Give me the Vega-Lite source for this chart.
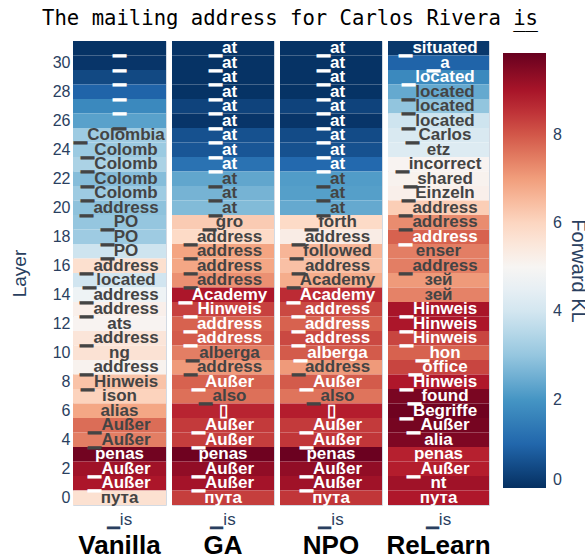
{
  "$schema": "https://vega.github.io/schema/vega-lite/v6.json",
  "background": "white",
  "padding": {"left": 9, "top": 8, "right": 30, "bottom": 40},
  "bounds": "flush",
  "title": {"text": "The mailing address for Carlos Rivera is", "subtitle": "__", "font": "DejaVu Sans Mono", "fontSize": 20.6, "fontWeight": "normal", "color": "black", "subtitleFont": "DejaVu Sans Mono", "subtitleFontSize": 20.6, "subtitleColor": "black", "subtitlePadding": -18, "frame": "bounds", "anchor": "end", "dx": -50, "offset": 7},
  "data": {"values": [
    {"m":"Vanilla","l":31,"t":"▁","v":0.05},{"m":"Vanilla","l":30,"t":"▁","v":0.1},{"m":"Vanilla","l":29,"t":"▁","v":0.45},{"m":"Vanilla","l":28,"t":"▁","v":0.95},
    {"m":"Vanilla","l":27,"t":"▁","v":1.75},{"m":"Vanilla","l":26,"t":"▁","v":2.25},{"m":"Vanilla","l":25,"t":"▁Colombia","v":3.15},{"m":"Vanilla","l":24,"t":"▁Colomb","v":3.1},
    {"m":"Vanilla","l":23,"t":"▁Colomb","v":3.35},{"m":"Vanilla","l":22,"t":"▁Colomb","v":2.8},{"m":"Vanilla","l":21,"t":"▁Colomb","v":3.15},{"m":"Vanilla","l":20,"t":"▁address","v":2.9},
    {"m":"Vanilla","l":19,"t":"▁PO","v":3.0},{"m":"Vanilla","l":18,"t":"▁PO","v":3.15},{"m":"Vanilla","l":17,"t":"▁PO","v":3.9},{"m":"Vanilla","l":16,"t":"▁address","v":5.75},
    {"m":"Vanilla","l":15,"t":"▁located","v":3.95},{"m":"Vanilla","l":14,"t":"▁address","v":4.7},{"m":"Vanilla","l":13,"t":"▁address","v":5.2},{"m":"Vanilla","l":12,"t":"ats","v":5.05},
    {"m":"Vanilla","l":11,"t":"▁address","v":5.55},{"m":"Vanilla","l":10,"t":"ng","v":5.65},{"m":"Vanilla","l":9,"t":"▁address","v":5.1},{"m":"Vanilla","l":8,"t":"▁Hinweis","v":6.35},
    {"m":"Vanilla","l":7,"t":"ison","v":6.05},{"m":"Vanilla","l":6,"t":"alias","v":6.85},{"m":"Vanilla","l":5,"t":"▁Außer","v":7.7},{"m":"Vanilla","l":4,"t":"▁Außer","v":7.45},
    {"m":"Vanilla","l":3,"t":"penas","v":9.7},{"m":"Vanilla","l":2,"t":"▁Außer","v":9.1},{"m":"Vanilla","l":1,"t":"▁Außer","v":8.95},{"m":"Vanilla","l":0,"t":"пута","v":5.7},

    {"m":"GA","l":31,"t":"▁at","v":0.05},{"m":"GA","l":30,"t":"▁at","v":0.05},{"m":"GA","l":29,"t":"▁at","v":0.05},{"m":"GA","l":28,"t":"▁at","v":0.05},
    {"m":"GA","l":27,"t":"▁at","v":0.35},{"m":"GA","l":26,"t":"▁at","v":0.1},{"m":"GA","l":25,"t":"▁at","v":0.6},{"m":"GA","l":24,"t":"▁at","v":0.7},
    {"m":"GA","l":23,"t":"▁at","v":1.25},{"m":"GA","l":22,"t":"▁at","v":2.35},{"m":"GA","l":21,"t":"▁at","v":2.6},{"m":"GA","l":20,"t":"▁at","v":2.75},
    {"m":"GA","l":19,"t":"▁gro","v":6.2},{"m":"GA","l":18,"t":"▁address","v":5.9},{"m":"GA","l":17,"t":"▁address","v":6.9},{"m":"GA","l":16,"t":"▁address","v":6.85},
    {"m":"GA","l":15,"t":"▁address","v":7.2},{"m":"GA","l":14,"t":"▁Academy","v":8.95},{"m":"GA","l":13,"t":"▁Hinweis","v":8.3},{"m":"GA","l":12,"t":"▁address","v":7.85},
    {"m":"GA","l":11,"t":"▁address","v":7.95},{"m":"GA","l":10,"t":"▁alberga","v":7.45},{"m":"GA","l":9,"t":"▁address","v":7.05},{"m":"GA","l":8,"t":"▁Außer","v":7.85},
    {"m":"GA","l":7,"t":"▁also","v":7.65},{"m":"GA","l":6,"t":"▯","v":8.7},{"m":"GA","l":5,"t":"▁Außer","v":8.4},{"m":"GA","l":4,"t":"▁Außer","v":8.35},
    {"m":"GA","l":3,"t":"penas","v":9.75},{"m":"GA","l":2,"t":"▁Außer","v":9.3},{"m":"GA","l":1,"t":"▁Außer","v":9.05},{"m":"GA","l":0,"t":"пута","v":8.35},

    {"m":"NPO","l":31,"t":"▁at","v":0.05},{"m":"NPO","l":30,"t":"▁at","v":0.05},{"m":"NPO","l":29,"t":"▁at","v":0.05},{"m":"NPO","l":28,"t":"▁at","v":0.05},
    {"m":"NPO","l":27,"t":"▁at","v":0.35},{"m":"NPO","l":26,"t":"▁at","v":0.1},{"m":"NPO","l":25,"t":"▁at","v":0.5},{"m":"NPO","l":24,"t":"▁at","v":0.6},
    {"m":"NPO","l":23,"t":"▁at","v":1.05},{"m":"NPO","l":22,"t":"▁at","v":2.15},{"m":"NPO","l":21,"t":"▁at","v":2.2},{"m":"NPO","l":20,"t":"▁at","v":2.4},
    {"m":"NPO","l":19,"t":"▁forth","v":5.9},{"m":"NPO","l":18,"t":"▁address","v":5.3},{"m":"NPO","l":17,"t":"▁followed","v":6.6},{"m":"NPO","l":16,"t":"▁address","v":6.4},
    {"m":"NPO","l":15,"t":"▁Academy","v":6.75},{"m":"NPO","l":14,"t":"▁Academy","v":8.6},{"m":"NPO","l":13,"t":"▁address","v":8.2},{"m":"NPO","l":12,"t":"▁address","v":7.85},
    {"m":"NPO","l":11,"t":"▁address","v":8.2},{"m":"NPO","l":10,"t":"▁alberga","v":7.95},{"m":"NPO","l":9,"t":"▁address","v":7.05},{"m":"NPO","l":8,"t":"▁Außer","v":7.95},
    {"m":"NPO","l":7,"t":"▁also","v":7.6},{"m":"NPO","l":6,"t":"▯","v":8.8},{"m":"NPO","l":5,"t":"▁Außer","v":8.4},{"m":"NPO","l":4,"t":"▁Außer","v":8.45},
    {"m":"NPO","l":3,"t":"penas","v":9.8},{"m":"NPO","l":2,"t":"▁Außer","v":9.3},{"m":"NPO","l":1,"t":"▁Außer","v":9.1},{"m":"NPO","l":0,"t":"пута","v":8.45},

    {"m":"ReLearn","l":31,"t":"▁situated","v":0.15},{"m":"ReLearn","l":30,"t":"▁a","v":0.95},{"m":"ReLearn","l":29,"t":"▁located","v":1.75},{"m":"ReLearn","l":28,"t":"▁located","v":2.4},
    {"m":"ReLearn","l":27,"t":"▁located","v":2.95},{"m":"ReLearn","l":26,"t":"▁located","v":3.9},{"m":"ReLearn","l":25,"t":"▁Carlos","v":4.15},{"m":"ReLearn","l":24,"t":"etz","v":4.25},
    {"m":"ReLearn","l":23,"t":"▁incorrect","v":5.05},{"m":"ReLearn","l":22,"t":"▁shared","v":5.1},{"m":"ReLearn","l":21,"t":"▁Einzeln","v":5.2},{"m":"ReLearn","l":20,"t":"▁address","v":6.15},
    {"m":"ReLearn","l":19,"t":"▁address","v":7.25},{"m":"ReLearn","l":18,"t":"▁address","v":7.85},{"m":"ReLearn","l":17,"t":"enser","v":7.45},{"m":"ReLearn","l":16,"t":"▁address","v":7.45},
    {"m":"ReLearn","l":15,"t":"зей","v":7.05},{"m":"ReLearn","l":14,"t":"зей","v":7.4},{"m":"ReLearn","l":13,"t":"▁Hinweis","v":9.0},{"m":"ReLearn","l":12,"t":"▁Hinweis","v":8.95},
    {"m":"ReLearn","l":11,"t":"▁Hinweis","v":8.25},{"m":"ReLearn","l":10,"t":"▁hon","v":7.85},{"m":"ReLearn","l":9,"t":"▁office","v":8.25},{"m":"ReLearn","l":8,"t":"▁Hinweis","v":8.9},
    {"m":"ReLearn","l":7,"t":"▁found","v":9.6},{"m":"ReLearn","l":6,"t":"▁Begriffe","v":9.75},{"m":"ReLearn","l":5,"t":"▁Außer","v":9.65},{"m":"ReLearn","l":4,"t":"alia","v":9.55},
    {"m":"ReLearn","l":3,"t":"penas","v":8.75},{"m":"ReLearn","l":2,"t":"▁Außer","v":8.8},{"m":"ReLearn","l":1,"t":"nt","v":9.1},{"m":"ReLearn","l":0,"t":"пута","v":8.9}
  ]},
  "spacing": 6,
  "hconcat": [
    {
      "width": 93, "height": 464,
      "transform": [{"filter": "datum.m == 'Vanilla'"}],
      "title": {"text": "Vanilla", "orient": "bottom", "font": "Liberation Sans", "fontSize": 26, "fontWeight": "bold", "color": "black", "offset": 6},
      "encoding": {
        "x": {"datum": "▁is", "type": "nominal", "scale": {"paddingInner": 0, "paddingOuter": 0}, "axis": {"title": null, "labelAngle": 0, "domain": false, "ticks": false, "labelFontSize": 17, "labelColor": "#2a3f5f", "labelPadding": 6, "labelFont": "Liberation Sans"}},
        "y": {"field": "l", "type": "ordinal", "sort": "descending", "scale": {"paddingInner": 0, "paddingOuter": 0}, "axis": {"values": [0,2,4,6,8,10,12,14,16,18,20,22,24,26,28,30], "title": "Layer", "ticks": false, "domain": false, "labelAngle": 0, "labelFontSize": 16, "labelColor": "#2a3f5f", "labelPadding": 3, "labelFont": "Liberation Sans", "titleFont": "Liberation Sans", "titleFontSize": 19, "titleFontWeight": "normal", "titleColor": "#2a3f5f", "titlePadding": 23}}
      },
      "layer": [
        {"mark": {"type": "rect"}, "encoding": {"color": {"field": "v", "type": "quantitative", "scale": {"domain": [0, 0.985, 1.97, 2.955, 3.94, 4.925, 5.91, 6.895, 7.88, 8.865, 9.85], "range": ["#053061","#2166ac","#4393c3","#92c5de","#d1e5f0","#f7f7f7","#fddbc7","#f4a582","#d6604d","#b2182b","#67001f"], "interpolate": "rgb"}, "legend": {"orient": "none", "legendX": 430, "legendY": 12, "direction": "vertical", "title": "Forward KL", "titleOrient": "right", "titleAngle": 270, "titleAnchor": "middle", "titleFont": "Liberation Sans", "titleFontSize": 20, "titleFontWeight": "normal", "titleColor": "#2a3f5f", "titlePadding": 6, "gradientLength": 435, "gradientThickness": 43, "gradientStrokeWidth": 0, "values": [0,2,4,6,8], "labelFont": "Liberation Sans", "labelFontSize": 16, "labelColor": "#2a3f5f", "labelOffset": 7}}}},
        {"mark": {"type": "text", "font": "Liberation Sans", "fontSize": 17, "fontWeight": "bold"}, "encoding": {"text": {"field": "t"}, "color": {"condition": {"test": "datum.v < 2.05 || datum.v > 7.78", "value": "white"}, "value": "#444444"}}}
      ]
    },
    {
      "width": 102, "height": 464,
      "transform": [{"filter": "datum.m == 'GA'"}],
      "title": {"text": "GA", "orient": "bottom", "font": "Liberation Sans", "fontSize": 26, "fontWeight": "bold", "color": "black", "offset": 6},
      "encoding": {
        "x": {"datum": "▁is", "type": "nominal", "scale": {"paddingInner": 0, "paddingOuter": 0}, "axis": {"title": null, "labelAngle": 0, "domain": false, "ticks": false, "labelFontSize": 17, "labelColor": "#2a3f5f", "labelPadding": 6, "labelFont": "Liberation Sans"}},
        "y": {"field": "l", "type": "ordinal", "sort": "descending", "scale": {"paddingInner": 0, "paddingOuter": 0}, "axis": null}
      },
      "layer": [
        {"mark": {"type": "rect"}, "encoding": {"color": {"field": "v", "type": "quantitative", "legend": null}}},
        {"mark": {"type": "text", "font": "Liberation Sans", "fontSize": 17, "fontWeight": "bold"}, "encoding": {"text": {"field": "t"}, "color": {"condition": {"test": "datum.v < 2.05 || datum.v > 7.78", "value": "white"}, "value": "#444444"}}}
      ]
    },
    {
      "width": 102, "height": 464,
      "transform": [{"filter": "datum.m == 'NPO'"}],
      "title": {"text": "NPO", "orient": "bottom", "font": "Liberation Sans", "fontSize": 26, "fontWeight": "bold", "color": "black", "offset": 6},
      "encoding": {
        "x": {"datum": "▁is", "type": "nominal", "scale": {"paddingInner": 0, "paddingOuter": 0}, "axis": {"title": null, "labelAngle": 0, "domain": false, "ticks": false, "labelFontSize": 17, "labelColor": "#2a3f5f", "labelPadding": 6, "labelFont": "Liberation Sans"}},
        "y": {"field": "l", "type": "ordinal", "sort": "descending", "scale": {"paddingInner": 0, "paddingOuter": 0}, "axis": null}
      },
      "layer": [
        {"mark": {"type": "rect"}, "encoding": {"color": {"field": "v", "type": "quantitative", "legend": null}}},
        {"mark": {"type": "text", "font": "Liberation Sans", "fontSize": 17, "fontWeight": "bold"}, "encoding": {"text": {"field": "t"}, "color": {"condition": {"test": "datum.v < 2.05 || datum.v > 7.78", "value": "white"}, "value": "#444444"}}}
      ]
    },
    {
      "width": 101, "height": 464,
      "transform": [{"filter": "datum.m == 'ReLearn'"}],
      "title": {"text": "ReLearn", "orient": "bottom", "font": "Liberation Sans", "fontSize": 26, "fontWeight": "bold", "color": "black", "offset": 6},
      "encoding": {
        "x": {"datum": "▁is", "type": "nominal", "scale": {"paddingInner": 0, "paddingOuter": 0}, "axis": {"title": null, "labelAngle": 0, "domain": false, "ticks": false, "labelFontSize": 17, "labelColor": "#2a3f5f", "labelPadding": 6, "labelFont": "Liberation Sans"}},
        "y": {"field": "l", "type": "ordinal", "sort": "descending", "scale": {"paddingInner": 0, "paddingOuter": 0}, "axis": null}
      },
      "layer": [
        {"mark": {"type": "rect"}, "encoding": {"color": {"field": "v", "type": "quantitative", "legend": null}}},
        {"mark": {"type": "text", "font": "Liberation Sans", "fontSize": 17, "fontWeight": "bold"}, "encoding": {"text": {"field": "t"}, "color": {"condition": {"test": "datum.v < 2.05 || datum.v > 7.78", "value": "white"}, "value": "#444444"}}}
      ]
    }
  ],
  "resolve": {"scale": {"color": "shared"}},
  "config": {"view": {"stroke": "#d3dae3", "strokeWidth": 1}}
}
